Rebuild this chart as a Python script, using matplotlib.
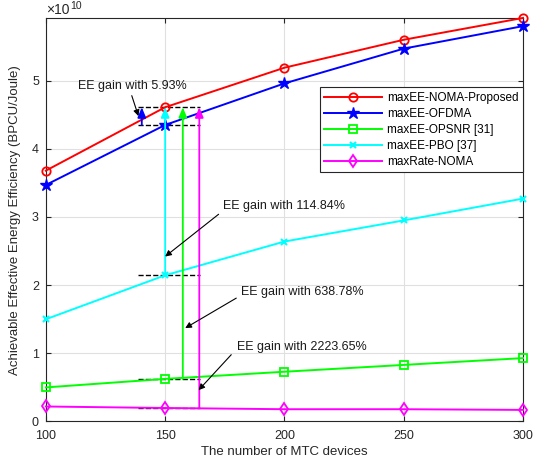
import matplotlib.pyplot as plt

plt.rcParams['font.family'] = ['Liberation Sans', 'DejaVu Sans']

# data (unit: 1e10 BPCU/Joule)
n_devices = [100, 150, 200, 250, 300]
ee_noma = [3.68, 4.61, 5.19, 5.60, 5.92]
ee_ofdma = [3.47, 4.35, 4.96, 5.47, 5.80]
ee_opsnr = [0.50, 0.625, 0.73, 0.83, 0.93]
ee_pbo = [1.50, 2.145, 2.64, 2.95, 3.27]
rate_noma = [0.22, 0.198, 0.18, 0.18, 0.17]

labels = ['maxEE-NOMA-Proposed', 'maxEE-OFDMA', 'maxEE-OPSNR [31]',
          'maxEE-PBO [37]', 'maxRate-NOMA']
gains = ['5.93%', '114.84%', '638.78%', '2223.65%']

fig = plt.figure(figsize=(5.46, 4.66), dpi=100)
ax = fig.add_axes([0.084, 0.0955, 0.874, 0.866])

kw = dict(lw=1.4, clip_on=False, zorder=3)
ax.plot(n_devices, ee_noma, '-o', color='#ff0000', ms=6, mfc='none', mew=1.3, label=labels[0], **kw)
ax.plot(n_devices, ee_ofdma, '-*', color='#0000ff', ms=9, label=labels[1], **kw)
ax.plot(n_devices, ee_opsnr, '-s', color='#00ff00', ms=5.5, mfc='none', mew=1.3, label=labels[2], **kw)
ax.plot(n_devices, ee_pbo, '-x', color='#00ffff', ms=4.5, mew=1.5, label=labels[3], **kw)
ax.plot(n_devices, rate_noma, '-d', color='#ff00ff', ms=6.5, mfc='none', mew=1.3, label=labels[4], **kw)

# dashed reference levels at 150 devices
i = n_devices.index(150)
top = ee_noma[i]
for lvl in [ee_noma[i], ee_ofdma[i], ee_pbo[i], ee_opsnr[i], rate_noma[i]]:
    ax.plot([138.7, 164.7], [lvl, lvl], '--', color='black', lw=1.0, zorder=2)

# vertical gain arrows
arrows = [(140.2, ee_ofdma[i], '#0000ff'), (150, ee_pbo[i], '#00ffff'),
          (157.4, ee_opsnr[i], '#00ff00'), (164.3, rate_noma[i], '#ff00ff')]
for xa, y0, c in arrows:
    ax.annotate('', xy=(xa, top), xytext=(xa, y0),
                arrowprops=dict(arrowstyle='-|>,head_width=0.25,head_length=0.6', color=c, lw=1.3,
                                mutation_scale=10, shrinkA=0, shrinkB=0))

# text annotations
notes = [((113.3, 4.92), (136.0, 4.78), (138.8, 4.48)),
         ((174.4, 3.16), (172.4, 3.04), (150.0, 2.42)),
         ((181.9, 1.90), (179.8, 1.81), (158.4, 1.37)),
         ((180.1, 1.10), (177.7, 0.98), (164.0, 0.46))]
for g, (tpos, tail, head) in zip(gains, notes):
    ax.text(tpos[0], tpos[1], 'EE gain with ' + g, fontsize=9, va='center', ha='left', color='#1a1a1a')
    ax.annotate('', xy=head, xytext=tail,
                arrowprops=dict(arrowstyle='-|>', color='black', lw=0.8,
                                mutation_scale=9, shrinkA=0, shrinkB=0))

ax.set_xlim(100, 300)
ax.set_ylim(0, 5.92)
ax.set_xticks(n_devices)
ax.set_yticks([0, 1, 2, 3, 4, 5])
ax.grid(True, color='#e0e0e0', lw=0.8)
ax.set_axisbelow(True)
ax.tick_params(direction='in', top=True, right=True, labelsize=9, colors='#262626')
ax.tick_params(axis='x', pad=6)
ax.tick_params(axis='y', pad=5)
for s in ax.spines.values():
    s.set_color('#262626')
# multiplier label, drawn as two texts so the exponent stays inside the figure
ax.text(0, 1.002, '×10', transform=ax.transAxes, fontsize=10, color='#262626',
        va='bottom', ha='left')
ax.text(0.0505, 1.017, '10', transform=ax.transAxes, fontsize=7.5, color='#262626',
        va='bottom', ha='left')
ax.set_xlabel('The number of MTC devices', fontsize=9.5, color='#262626', labelpad=3)
ax.set_ylabel('Achievable Effective Energy Efficiency (BPCU/Joule)', fontsize=9.5, color='#262626', labelpad=8)

leg = ax.legend(loc='upper right', bbox_to_anchor=(1.0, 0.828), borderaxespad=0,
                fontsize=8.5, fancybox=False, edgecolor='#262626', framealpha=1,
                handlelength=4.9, labelspacing=0.33, borderpad=0.4, handletextpad=0.4)
leg.get_frame().set_linewidth(0.8)

fig.savefig('out.png', dpi=100)
